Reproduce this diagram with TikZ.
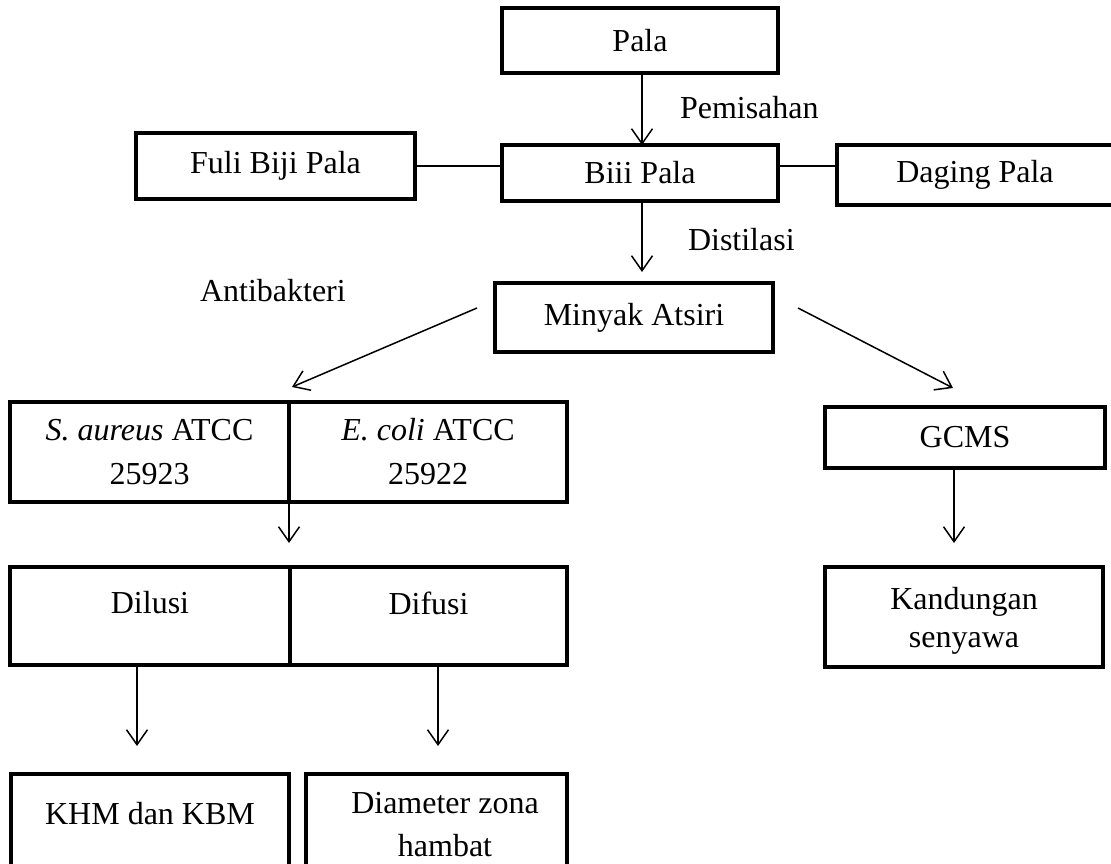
\documentclass[tikz,border=0pt]{standalone}
\usepackage{fontspec}
\setmainfont{Liberation Serif}
\usetikzlibrary{arrows.meta}
\begin{document}
\begin{tikzpicture}[x=1pt,y=-1pt,
  box/.style={draw=black,line width=4.5pt,outer sep=0pt,inner sep=0pt,align=center,font=\fontsize{32}{44}\selectfont},
  txt/.style={inner sep=0pt,outer sep=0pt,font=\fontsize{32}{44}\selectfont},
  conn/.style={line width=1.5pt},
  arr/.style={line width=1.5pt,-{Straight Barb[length=15pt,width=21pt,line width=1.5pt]}}]
\useasboundingbox (0,0) rectangle (1111,864);
% boxes
\node[box,minimum width=276,minimum height=65] (pala) at (640,40.5) {Pala};
\node[box,minimum width=276,minimum height=56] (biji) at (640,173) {Biii Pala};
\node[box,minimum width=279,minimum height=66] (fuli) at (275.5,166) {Fuli Biji Pala};
\node[box,minimum width=276,minimum height=60] (daging) at (975,175) {Daging Pala};
\node[box,minimum width=278,minimum height=69] (minyak) at (634,317.5) {Minyak Atsiri};
\node[box,minimum width=279,minimum height=100] (sa) at (149.5,452) {\textit{S. aureus} ATCC\\25923};
\node[box,minimum width=278,minimum height=100] (ec) at (428,452) {\textit{E. coli} ATCC\\25922};
\node[box,minimum width=280,minimum height=98,label={[txt,yshift=13pt]center:Dilusi}] (dil) at (150,616) {};
\node[box,minimum width=277,minimum height=98,label={[txt,yshift=13pt]center:Difusi}] (dif) at (428.5,616) {};
\node[box,minimum width=278,minimum height=106,label={[txt,yshift=13pt]center:KHM dan KBM}] (khm) at (150,827) {};
\node[box,minimum width=261,minimum height=106,label={[txt,align=center,font=\fontsize{32}{43}\selectfont,xshift=8.5pt,yshift=2pt]center:Diameter zona\\hambat}] (diam) at (436.5,827) {};
\node[box,minimum width=280,minimum height=61] (gcms) at (965,437.5) {GCMS};
\node[box,minimum width=278,minimum height=100,label={[txt,align=center,font=\fontsize{32}{38}\selectfont,yshift=-4pt]center:Kandungan\\senyawa}] (kand) at (964,617) {};
% labels
\node[txt,anchor=west] (pem) at (680,108) {Pemisahan};
\node[txt,anchor=west] (dis) at (688,240) {Distilasi};
\node[txt,anchor=west] (anti) at (200,291) {Antibakteri};
% connectors
\draw[arr] ([xshift=2pt]pala.south) -- ([xshift=2pt]biji.north);
\draw[conn] (fuli.east) -- (fuli.east -| biji.west);
\draw[conn] (fuli.east -| biji.east) -- (fuli.east -| daging.west);
\draw[arr,shorten >=11pt] ([xshift=2pt]biji.south) -- ([xshift=2pt]biji.south |- minyak.north);
\coordinate (ml) at (477,308);
\coordinate (mlt) at (292,387);
\coordinate (mr) at (798,308);
\coordinate (mrt) at (953,388);
\draw[arr] (ml) -- (mlt);
\draw[arr] (mr) -- (mrt);
\draw[arr,shorten >=24pt] (sa.south east) -- (sa.south east |- dil.north);
\draw[arr,shorten >=28pt] ([xshift=-13pt]dil.south) -- ([xshift=-13pt]dil.south |- khm.north);
\draw[arr,shorten >=28pt] ([xshift=9.5pt]dif.south) -- ([xshift=9.5pt]dif.south |- diam.north);
\draw[arr,shorten >=24pt] ([xshift=-11pt]gcms.south) -- ([xshift=-11pt]gcms.south |- kand.north);
\end{tikzpicture}
\end{document}
